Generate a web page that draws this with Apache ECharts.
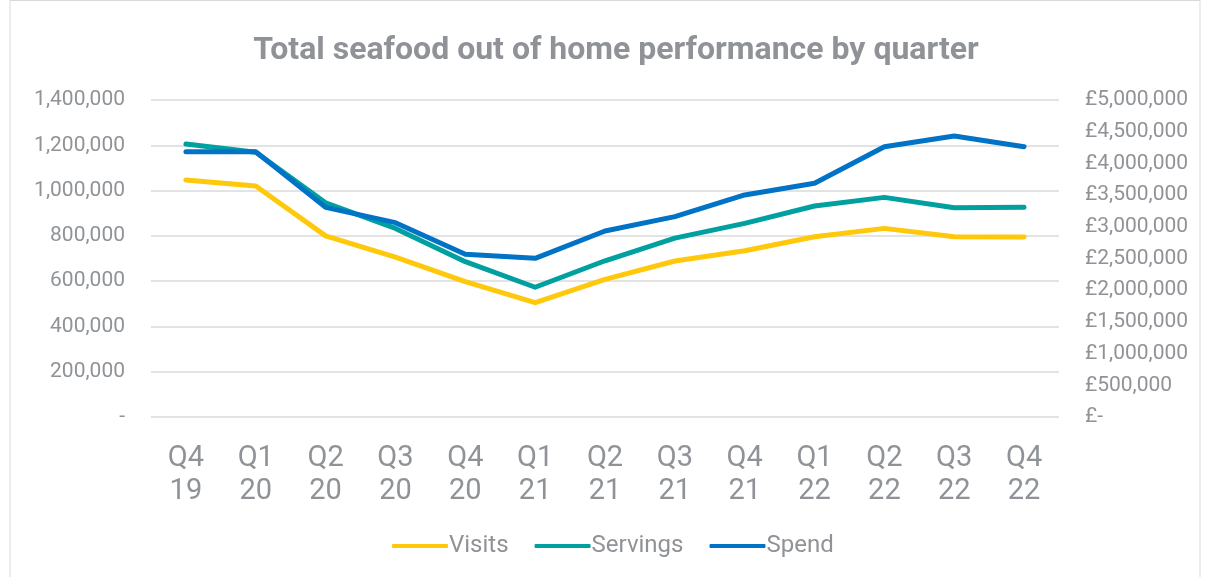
<!DOCTYPE html>
<html><head><meta charset="utf-8">
<script src="https://cdn.jsdelivr.net/npm/echarts@6/dist/echarts.min.js"></script>
<style>html,body{margin:0;padding:0;background:#fff}#c{width:1208px;height:577px}</style>
</head><body><div id="c"></div>
<script>
const categories = ['Q4\n19','Q1\n20','Q2\n20','Q3\n20','Q4\n20','Q1\n21','Q2\n21','Q3\n21','Q4\n21','Q1\n22','Q2\n22','Q3\n22','Q4\n22'];
const visits   = [1047000,1020000,800000,706000,598000,505000,608000,689000,734000,796000,833000,796000,795000];
const servings = [1206000,1169000,946000,833000,686000,573000,690000,790000,855000,932000,970000,924000,926000];
const spend    = [4185000,4185000,3307000,3065000,2566000,2503000,2934000,3160000,3502000,3686000,4264000,4432000,4264000];

const grey = '#8f9397';
const fmt = v => v.toLocaleString('en-GB');
const chart = echarts.init(document.getElementById('c'));
chart.setOption({
  backgroundColor:'#fff',
  title:{text:'Total seafood out of home performance by quarter',left:611,textAlign:'center',top:30,
    textStyle:{fontFamily:'Roboto',fontSize:32,fontWeight:'bold',color:'#8f9397'}},
  graphic:[{type:'rect',shape:{x:10,y:0.5,width:1190,height:600},style:{fill:'none',stroke:'#d9d9d9',lineWidth:1},silent:true}],
  legend:{bottom:14,left:387,itemWidth:56,itemHeight:4,itemGap:26,icon:'roundRect',
    textStyle:{fontFamily:'Roboto',fontSize:24,color:grey,padding:[0,0,0,-4]},
    data:['Visits','Servings','Spend']},
  grid:{left:151,right:149,top:100,bottom:160,containLabel:false},
  xAxis:{type:'category',data:categories,boundaryGap:true,
    axisLine:{show:false},axisTick:{show:false},
    axisLabel:{fontFamily:'Roboto',fontSize:29,color:grey,lineHeight:33,margin:25}},
  yAxis:[
    {type:'value',min:0,max:1400000,interval:200000,
      axisLine:{show:false},axisTick:{show:false},
      splitLine:{lineStyle:{color:'#e3e3e3',width:2}},
      axisLabel:{fontFamily:'Roboto',fontSize:21,color:grey,margin:26,
        formatter:v=>v===0?'-':fmt(v)}},
    {type:'value',min:0,max:5000000,interval:500000,
      axisLine:{show:false},axisTick:{show:false},splitLine:{show:false},
      axisLabel:{fontFamily:'Roboto',fontSize:21,color:grey,margin:26,
        formatter:v=>v===0?'£-':'£'+fmt(v)}}
  ],
  series:[
    {name:'Visits',type:'line',data:visits,yAxisIndex:0,symbol:'none',color:'#ffc80a',
      lineStyle:{width:5,cap:'round',join:'round'}},
    {name:'Servings',type:'line',data:servings,yAxisIndex:0,symbol:'none',color:'#00a0a0',
      lineStyle:{width:5,cap:'round',join:'round'}},
    {name:'Spend',type:'line',data:spend,yAxisIndex:1,symbol:'none',color:'#0073c6',
      lineStyle:{width:5,cap:'round',join:'round'}}
  ]
});
</script></body></html>
